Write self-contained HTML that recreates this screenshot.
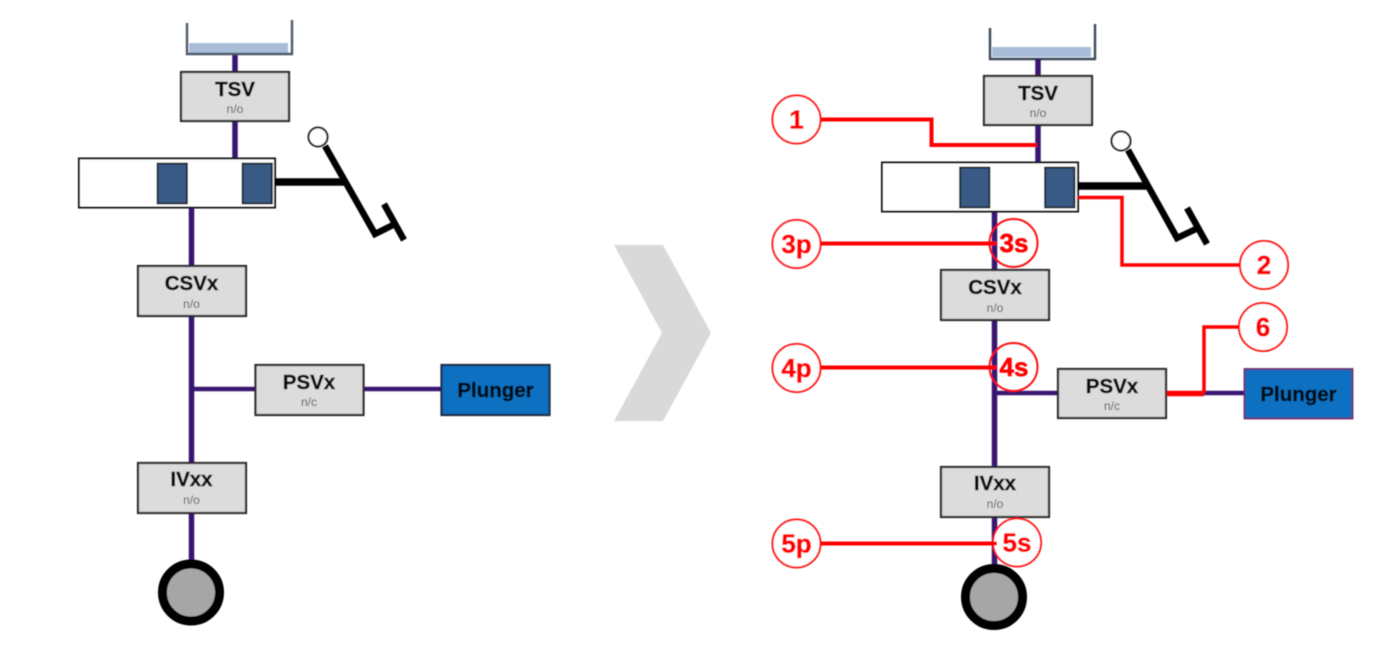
<!DOCTYPE html>
<html>
<head>
<meta charset="utf-8">
<style>
html,body{margin:0;padding:0;background:#fff;width:1378px;height:648px;overflow:hidden}
svg{display:block}
text{font-family:"Liberation Sans",sans-serif;text-anchor:middle}
.t{font-size:20.5px;font-weight:bold;fill:#111;stroke:#111;stroke-width:.45}
.p{font-size:20.5px;font-weight:bold;fill:#050d18;stroke:#050d18;stroke-width:.45}
.s{font-size:12px;fill:#555}
.r{font-size:26px;font-weight:bold;fill:#ff0000;stroke:#ff0000;stroke-width:.6}
.box{fill:#dcdcdc;stroke:#2c2c2c;stroke-width:2.2}
.pipe{stroke:#38126f;stroke-width:5.5;fill:none}
.thin{stroke:#38126f;stroke-width:4.5;fill:none}
.red{stroke:#ff0000;stroke-width:4;fill:none}
.red3{stroke:#ff0000;stroke-width:3.5;fill:none}
.c{fill:#fff;stroke:#ff1010;stroke-width:2}
.cn{fill:none;stroke:#ff1010;stroke-width:2}
.lev{stroke:#000;fill:none;stroke-width:6.5}
.blk{fill:#385a84;stroke:#111;stroke-width:1.6}
.cyl{fill:#fff;stroke:#111;stroke-width:2}
</style>
</head>
<body>
<svg width="1378" height="648" viewBox="0 0 1378 648" xmlns="http://www.w3.org/2000/svg">
<defs><filter id="b" x="-5%" y="-5%" width="110%" height="110%"><feGaussianBlur stdDeviation="0.4"/></filter></defs>
<g filter="url(#b)">
<!-- chevron -->
<polygon points="614,245 663,245 711,333 663,421 614,421 662,333" fill="#d9d9d9"/>

<!-- LEFT -->
<rect x="189" y="43" width="99" height="10" fill="#a9bdd9"/>
<path d="M187 23V54H292V20" fill="none" stroke="#4f5a69" stroke-width="2.400"/>
<path class="pipe" d="M235 55V72M235 121V158"/>
<path class="pipe" d="M191.500 208V266M191.500 316V463M191.500 513V562"/>
<path class="thin" d="M192 389H255M364 389H441"/>
<rect class="box" x="181" y="72" width="108" height="49"/>
<text class="t" x="235" y="96">TSV</text><text class="s" x="235" y="113">n/o</text>
<rect class="cyl" x="79" y="158.500" width="196" height="49"/>
<rect class="blk" x="157.500" y="163.500" width="29.500" height="40"/>
<rect class="blk" x="242.500" y="163.500" width="29.500" height="40"/>
<path d="M275 182H344" stroke="#000" stroke-width="7.500" fill="none"/>
<path class="lev" d="M325 146L375 234L393 225"/>
<path class="lev" d="M384 204L404 240"/>
<circle cx="318" cy="137" r="9.500" fill="#fff" stroke="#222" stroke-width="2"/>
<rect class="box" x="138" y="266" width="108" height="50"/>
<text class="t" x="191.500" y="290">CSVx</text><text class="s" x="191.500" y="308">n/o</text>
<rect class="box" x="255.500" y="365" width="108" height="50"/>
<text class="t" x="309" y="389">PSVx</text><text class="s" x="309" y="406">n/c</text>
<rect x="441.500" y="365" width="108" height="50" fill="#0f70c0" stroke="#1f2f4a" stroke-width="2.200"/>
<text class="p" x="495.500" y="397">Plunger</text>
<rect class="box" x="138" y="463" width="108" height="50"/>
<text class="t" x="191.500" y="486">IVxx</text><text class="s" x="191.500" y="504">n/o</text>
<circle cx="191" cy="592.500" r="28.500" fill="#a6a6a6" stroke="#000" stroke-width="9"/>

<!-- RIGHT -->
<rect x="992" y="47" width="99" height="10" fill="#a9bdd9"/>
<path d="M990 28V59H1095V24" fill="none" stroke="#3d4858" stroke-width="2.400"/>
<path class="pipe" d="M1038 59V76M1038 125V162"/>
<path class="pipe" d="M994.500 212V270M994.500 320V467M994.500 517V566"/>
<path class="thin" d="M995 393H1058M1204 393H1244"/>
<rect class="box" x="984" y="76" width="108" height="49"/>
<text class="t" x="1038" y="100">TSV</text><text class="s" x="1038" y="117">n/o</text>
<rect class="cyl" x="882" y="162.500" width="196" height="49"/>
<rect class="blk" x="960" y="167.500" width="29.500" height="40"/>
<rect class="blk" x="1045" y="167.500" width="29.500" height="40"/>
<path d="M1078 186H1147" stroke="#000" stroke-width="7.500" fill="none"/>
<path class="lev" d="M1128 150L1177 238L1196 229"/>
<path class="lev" d="M1187 208L1207 244"/>
<circle cx="1121" cy="141" r="9.500" fill="#fff" stroke="#222" stroke-width="2"/>
<rect class="box" x="941" y="270" width="108" height="50"/>
<text class="t" x="995" y="294">CSVx</text><text class="s" x="995" y="312">n/o</text>
<rect class="box" x="1058" y="369" width="108" height="49"/>
<text class="t" x="1112" y="393">PSVx</text><text class="s" x="1112" y="410">n/c</text>
<rect x="1244.500" y="369" width="108" height="49.500" fill="#0f70c0" stroke="#6b2f6e" stroke-width="1.800"/>
<text class="p" x="1298.500" y="401">Plunger</text>
<rect class="box" x="941" y="467" width="108" height="50"/>
<text class="t" x="995" y="490">IVxx</text><text class="s" x="995" y="508">n/o</text>
<circle cx="994" cy="597" r="28.500" fill="#a6a6a6" stroke="#000" stroke-width="9"/>

<!-- red leaders -->
<path class="red" d="M821 119.500H931.500V145H1037"/>
<path class="red3" d="M1078 197.500H1122V265H1240"/>
<path class="red3" d="M1204 393V327H1240"/>
<path d="M1167 393.500H1204" stroke="#f00" stroke-width="5.500" fill="none"/>

<!-- callouts -->
<circle class="c" cx="796.500" cy="119.500" r="24"/><text class="r" x="796.500" y="128.500">1</text>
<circle class="c" cx="1264" cy="265" r="24"/><text class="r" x="1264" y="274">2</text>
<circle class="c" cx="796.500" cy="244" r="24"/><text class="r" x="796.500" y="253">3p</text>
<circle class="cn" cx="1013.500" cy="243" r="24"/><text class="r" x="1014" y="252">3s</text>
<circle class="c" cx="796.500" cy="368" r="24"/><text class="r" x="796.500" y="377">4p</text>
<circle class="cn" cx="1013.500" cy="367" r="24"/><text class="r" x="1014" y="376">4s</text>
<circle class="c" cx="796.500" cy="543.500" r="24"/><text class="r" x="796.500" y="552.500">5p</text>
<circle class="c" cx="1017" cy="542.500" r="24"/><text class="r" x="1017" y="551.500">5s</text>
<circle class="c" cx="1263" cy="327" r="24"/><text class="r" x="1263" y="336">6</text>
<path class="red" d="M821 243.500H996.500M821 367.500H996.500M821 543.500H997"/>
</g>
</svg>
</body>
</html>
